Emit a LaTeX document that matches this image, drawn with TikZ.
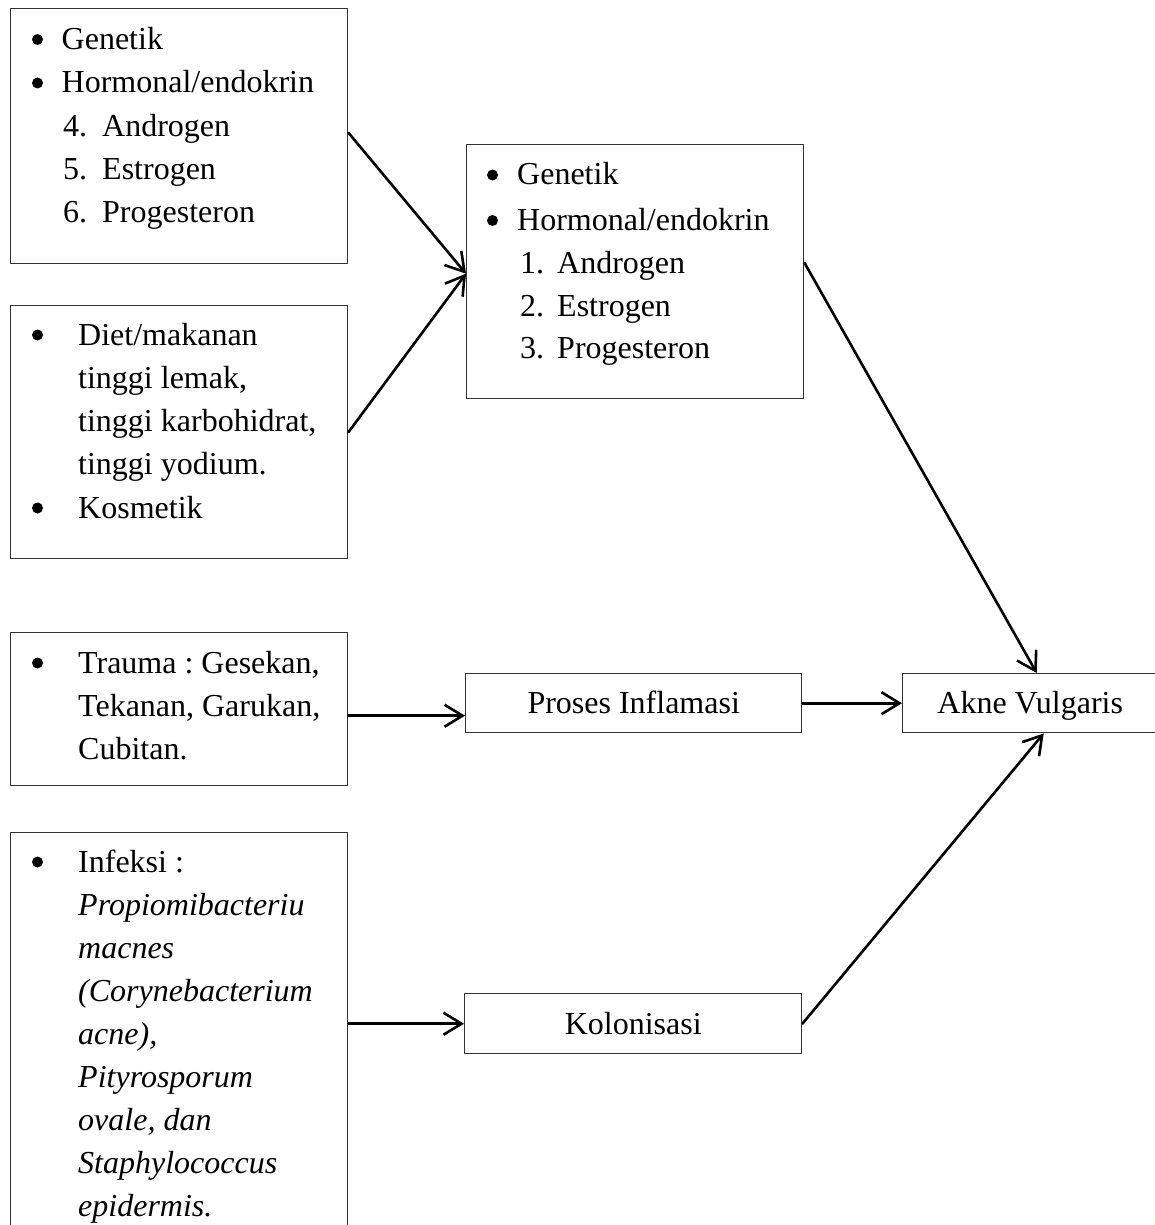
\documentclass[tikz,border=0pt]{standalone}
\usepackage{fontspec}
\setmainfont{Liberation Serif}
\usetikzlibrary{arrows.meta,calc}
\frenchspacing
\newcounter{tn}
\newcommand\tx[3]{\stepcounter{tn}\node[txt] (t\arabic{tn}) at (#1,#2) {#3};}
\newcommand\bu[2]{\stepcounter{tn}\node[bul] (t\arabic{tn}) at (#1,#2-10) {};}
\begin{document}
\begin{tikzpicture}[x=1pt,y=-1pt,
  font=\fontsize{32}{43}\selectfont\frenchspacing,
  box/.style={draw=black!80, line width=1.4pt, inner sep=0pt, anchor=north west},
  lbox/.style={box, text height=21pt, text depth=0pt, align=center},
  txt/.style={anchor=base west, inner sep=0pt},
  bul/.style={circle, fill=black, inner sep=0pt, minimum size=11pt},
  conn/.style={line width=2.6pt, line cap=round, -{Straight Barb[length=18pt,width=22pt]}}]
\useasboundingbox (0,0) rectangle (1155,1225);
\fill[white] (0,0) rectangle (1155,1225);
% boxes
\node[box, minimum width=337pt, minimum height=255pt] (b1) at (10,8) {};
\node[box, minimum width=337pt, minimum height=253pt] (b2) at (10,305) {};
\node[box, minimum width=337pt, minimum height=254pt] (b3) at (466,144) {};
\node[box, minimum width=337pt, minimum height=153pt] (b4) at (10,632) {};
\node[box, minimum width=337pt, minimum height=413pt] (b5) at (10,832) {};
\node[lbox, minimum width=336pt, minimum height=59pt] (pr) at (465,673) {Proses Inflamasi};
\node[lbox, minimum width=255pt, minimum height=59pt] (ak) at (902,673) {Akne Vulgaris};
\node[lbox, minimum width=337pt, minimum height=60pt] (kol) at (464,993) {Kolonisasi};
% box 1
\bu{37.5}{49.5}\tx{61.5}{49.5}{Genetik}
\bu{37.5}{93}\tx{61.5}{93}{Hormonal/endokrin}
\tx{63}{136.5}{4.}\tx{102}{136.5}{Androgen}
\tx{63}{179.5}{5.}\tx{102}{179.5}{Estrogen}
\tx{63}{222}{6.}\tx{102}{222}{Progesteron}
% box 2
\bu{37.5}{345}\tx{78}{345}{Diet/makanan}
\tx{78}{388}{tinggi lemak,}
\tx{78}{431}{tinggi karbohidrat,}
\tx{78}{474}{tinggi yodium.}
\bu{37.5}{518}\tx{78}{518}{Kosmetik}
% box 3
\bu{492.5}{185}\tx{517}{185}{Genetik}
\bu{492.5}{230.5}\tx{517}{230.5}{Hormonal/endokrin}
\tx{520}{273}{1.}\tx{557}{273}{Androgen}
\tx{520}{316}{2.}\tx{557}{316}{Estrogen}
\tx{520}{358.5}{3.}\tx{557}{358.5}{Progesteron}
% box 4
\bu{37.5}{673}\tx{78}{673}{Trauma : Gesekan,}
\tx{78}{716}{Tekanan, Garukan,}
\tx{78}{759}{Cubitan.}
% box 5
\bu{37.5}{872}\tx{78}{872}{Infeksi :}
\tx{78}{915}{\itshape Propiomibacteriu}
\tx{78}{958}{\itshape macnes}
\tx{78}{1001}{\itshape (Corynebacterium}
\tx{78}{1044}{\itshape acne),}
\tx{78}{1087}{\itshape Pityrosporum}
\tx{78}{1130}{\itshape ovale, dan}
\tx{78}{1173}{\itshape Staphylococcus}
\tx{78}{1216}{\itshape epidermis.}
% connectors
\draw[conn] ([yshift=3.5pt]b1.east) -- ([yshift=-2pt]b3.west);
\draw[conn] (b2.east) -- ([yshift=-2pt]b3.west);
\draw[conn] ([yshift=9pt]b3.east) -- ([xshift=6.5pt]ak.north);
\draw[conn] ([yshift=-6.5pt]b4.east) -- ([yshift=-6.5pt]b4.east -| pr.west);
\draw[conn] (pr.east) -- (ak.west);
\draw[conn] (kol.west -| b5.east) -- (kol.west);
\draw[conn] (kol.east) -- ([xshift=13.5pt]ak.south);
\end{tikzpicture}
\end{document}
